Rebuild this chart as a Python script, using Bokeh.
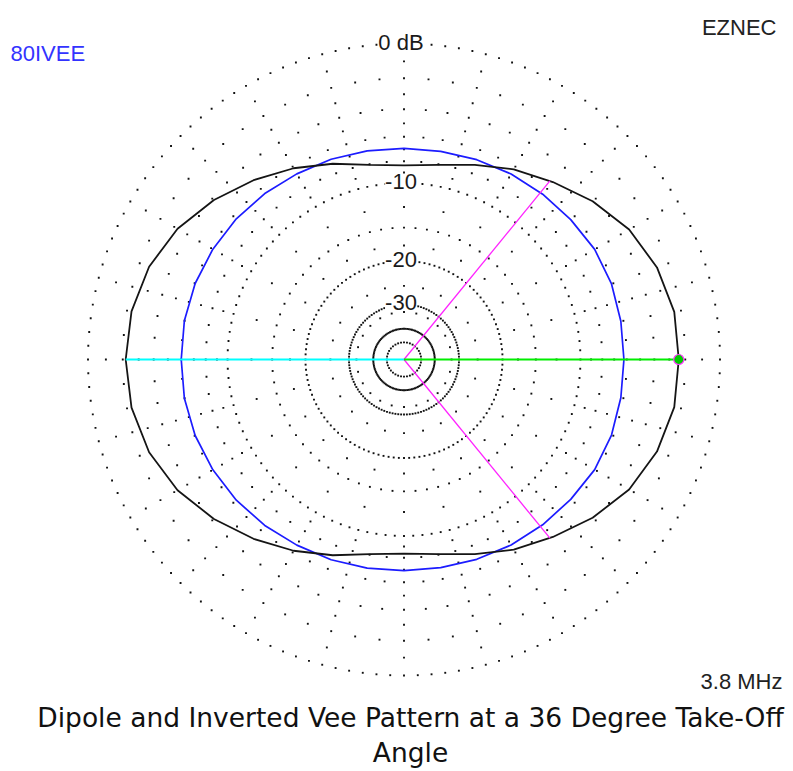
import numpy as np
from bokeh.plotting import figure
from bokeh.models import Range1d, Label
from bokeh.embed import file_html
from bokeh.resources import INLINE

# Azimuth pattern at 36 deg elevation, 10 deg steps, 0 deg = right, counter-clockwise
azimuth = list(range(0, 361, 10))
dipole_db = [-2.40, -2.42, -2.75, -3.35, -4.28, -5.33, -6.25, -7.25, -8.05, -8.37,
             -8.05, -7.15, -6.15, -5.15, -4.15, -3.25, -2.62, -2.28, -2.18,
             -2.28, -2.62, -3.25, -4.15, -5.15, -6.15, -7.15, -8.05, -8.37,
             -8.05, -7.25, -6.25, -5.33, -4.28, -3.35, -2.75, -2.42, -2.40]
inv_vee_db = [-6.22, -6.20, -6.15, -6.20, -6.40, -6.55, -6.67, -6.80, -6.90, -6.92,
              -6.86, -6.76, -6.66, -6.48, -6.30, -6.16, -6.04, -5.98, -6.00,
              -5.98, -6.04, -6.16, -6.30, -6.48, -6.66, -6.76, -6.86, -6.92,
              -6.90, -6.80, -6.67, -6.55, -6.40, -6.20, -6.15, -6.20, -6.22]

cursor_az = 0
back_az = 180

# Grid definition (ARRL log scale)
major_ring_db = [0, -10, -20, -30, -40, -50]
major_ring_step = [2.5, 3, 3, 3, 3, 10]
minor_ring_db = [-2, -4, -6, -8, -15]
minor_ring_step = 5
spoke_db = [-1, -2, -3, -4, -5, -6, -7, -8, -9, -12.5, -15, -17.5, -25, -32.5]
spoke_step = 15

ring_label_db = [0, -10, -20, -30]
ring_label_text = ["0 dB", "-10", "-20", "-30"]

title_left = "80IVEE"
title_right = "EZNEC"
freq_text = "3.8 MHz"
caption_lines = ["Dipole and Inverted Vee Pattern at a 36 Degree Take-Off", "Angle"]

W, H = 793, 771
CX, CY = 403.5, 359.0
R0 = 316.0


def radius(db):
    return R0 * 0.89 ** (-np.asarray(db, dtype=float) / 2.0)


def polar(az_deg, db):
    a = np.radians(np.asarray(az_deg, dtype=float))
    r = radius(db)
    return r * np.cos(a), r * np.sin(a)


def page(px, py):
    """Page pixel position (from top-left) to plot coordinates."""
    return px - CX, CY - py


p = figure(width=W, height=H, output_backend="svg", toolbar_location=None,
           x_range=Range1d(-CX, W - CX), y_range=Range1d(CY - H, CY),
           x_axis_location=None, y_axis_location=None, min_border=0,
           outline_line_color=None, background_fill_color="white",
           border_fill_color="white")
p.grid.visible = False

# dotted grid
gx, gy = [], []
for db, step in zip(major_ring_db, major_ring_step):
    az = np.arange(0, 360, step)
    x, y = polar(az, np.full(az.shape, db))
    gx.extend(x); gy.extend(y)
for db in minor_ring_db:
    az = np.arange(0, 360, minor_ring_step)
    x, y = polar(az, np.full(az.shape, db))
    gx.extend(x); gy.extend(y)
for az in range(0, 360, spoke_step):
    for db in spoke_db:
        if db in minor_ring_db:
            continue
        x, y = polar([az], [db])
        gx.extend(x); gy.extend(y)
p.scatter(gx, gy, marker="square", size=1.9, fill_color="#111111",
          line_color=None)

# patterns
vx, vy = polar(azimuth, inv_vee_db)
p.line(vx, vy, line_color="#1c1cff", line_width=1.7)
dx, dy = polar(azimuth, dipole_db)
p.line(dx, dy, line_color="#151515", line_width=1.8)

# back direction
back_db = dipole_db[azimuth.index(back_az)]
bx, by = polar([back_az], [back_db])
p.segment(x0=[0], y0=[0], x1=bx, y1=by, line_color="#00ffff", line_width=2)

# -3 dB beamwidth lines
peak_db = dipole_db[azimuth.index(cursor_az)]
half_az = np.array(azimuth[:10], dtype=float)
half_db = np.array(dipole_db[:10], dtype=float)
edge_az = float(np.interp(peak_db - 3, half_db[::-1], half_az[::-1]))
ex, ey = polar([edge_az, -edge_az], [peak_db - 3, peak_db - 3])
p.segment(x0=[0, 0], y0=[0, 0], x1=ex, y1=ey, line_color="#ff22ff",
          line_width=1.3)

# cursor
cx1, cy1 = polar([cursor_az], [peak_db])
p.segment(x0=[0], y0=[0], x1=cx1, y1=cy1, line_color="#00ee00", line_width=2)
p.scatter(cx1, cy1, marker="circle", size=10, fill_color="#00cc00",
          line_color="#ff33ff", line_width=1.2)

# ring labels
for db, txt in zip(ring_label_db, ring_label_text):
    p.add_layout(Label(x=-3, y=float(radius(db)) + 1.5, text=txt,
                       text_align="center", text_baseline="middle",
                       background_fill_color="white",
                       text_font="Liberation Sans", text_font_size="22px",
                       text_color="#1a1a1a"))

x, y = page(10, 53)
p.add_layout(Label(x=x, y=y, text=title_left, text_align="left",
                   text_baseline="middle", text_font="Liberation Sans",
                   text_font_size="22px", text_color="#3333ff"))
x, y = page(776, 27)
p.add_layout(Label(x=x, y=y, text=title_right, text_align="right",
                   text_baseline="middle", text_font="Liberation Sans",
                   text_font_size="22px", text_color="#222222"))
x, y = page(782, 681)
p.add_layout(Label(x=x, y=y, text=freq_text, text_align="right",
                   text_baseline="middle", text_font="Liberation Sans",
                   text_font_size="22px", text_color="#222222"))

for i, line in enumerate(caption_lines):
    x, y = page(410, 717 + 35 * i)
    p.add_layout(Label(x=x, y=y, text=line, text_align="center",
                       text_baseline="middle", text_font="DejaVu Sans",
                       text_font_size="26.5px", text_color="#111111"))

with open("out.html", "w") as f:
    f.write(file_html(p, INLINE))
